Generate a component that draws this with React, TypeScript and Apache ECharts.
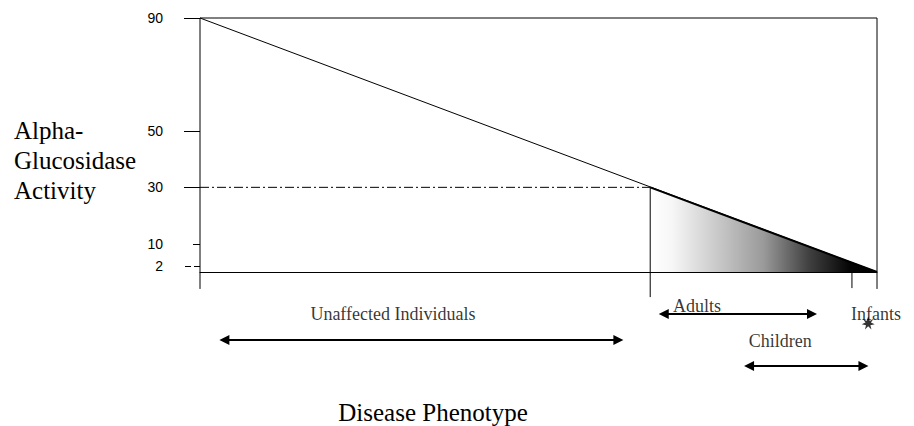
import React, { useEffect, useRef } from "react";
import * as echarts from "echarts";

// Y axis tick labels (schematic scale of alpha-glucosidase activity)
const yTicksMajor = [30, 50, 90];
const yTickShort = [10];
const yTickDashed = [2];

// Main activity line: from full activity to the lowest level
const activityLine = [
  [0, 90],
  [100, 0],
];
// Threshold where disease begins
const thresholdX = 66.5;
const thresholdY = 30;
// Affected (gradient) region along the line
const affectedLine = [
  [66.5, 30],
  [100, 0],
];
// Right-end tick on the phenotype axis
const infantTickX = 96.3;

// Phenotype ranges (below the axis)
const phenotypeNames = ["Unaffected Individuals", "Adults", "Children", "Infants"];
const phenotypeRanges = [
  [3.6, 61.8],
  [68.5, 90.4],
  [81.1, 98.0],
];
const phenotypeRows = [-24.1, -14.9, -33.3];
const labelX = [28.5, 73.4, 85.7, 99.85];
const labelY = [-14.9, -12.0, -24.4, -14.9];
const infantPoint = [98.7, -18.1];

const seg = (data: number[][], extra: any = {}) => ({
  type: "line",
  data,
  symbol: "none",
  clip: false,
  silent: true,
  lineStyle: { color: "#000", width: 1, ...extra },
  z: 3,
});

export default function App() {
  const ref = useRef<HTMLDivElement>(null);
  useEffect(() => {
    document.body.style.margin = "0";
    if (!ref.current) return;
    const chart = echarts.init(ref.current, undefined, { renderer: "svg" });
    const serif = "'Liberation Serif', 'Times New Roman', serif";
    const sans = "'Liberation Sans', Arial, sans-serif";
    const yBase = {
      type: "value",
      min: -40,
      max: 90,
      position: "left",
      axisLine: { show: false },
      splitLine: { show: false },
    };
    const tickLabel = {
      show: true,
      margin: 37,
      color: "#000",
      fontSize: 14,
      fontFamily: sans,
    };
    chart.setOption({
      animation: false,
      backgroundColor: "#fff",
      grid: { left: 200, right: 37, top: 18, bottom: 41.11 },
      xAxis: {
        type: "value",
        min: 0,
        max: 100,
        axisLine: { show: true, onZero: true, lineStyle: { color: "#000", width: 1 } },
        axisTick: { show: false },
        axisLabel: { show: false },
        splitLine: { show: false },
      },
      yAxis: [
        {
          ...yBase,
          axisTick: { show: true, customValues: yTicksMajor, length: 16, lineStyle: { color: "#000" } },
          axisLabel: { ...tickLabel, customValues: yTicksMajor },
        },
        {
          ...yBase,
          axisTick: { show: true, customValues: yTickShort, length: 7, lineStyle: { color: "#000" } },
          axisLabel: { ...tickLabel, customValues: yTickShort },
        },
        {
          ...yBase,
          axisTick: {
            show: true,
            customValues: yTickDashed,
            length: 16,
            lineStyle: { color: "#000", type: [6, 3] },
          },
          axisLabel: { ...tickLabel, customValues: yTickDashed },
        },
      ],
      graphic: [
        {
          type: "text",
          left: 14,
          top: 115,
          style: {
            text: "Alpha-\nGlucosidase\nActivity",
            font: `25px ${serif}`,
            lineHeight: 30,
            fill: "#000",
          },
        },
        {
          type: "text",
          x: 433,
          y: 412,
          style: {
            text: "Disease Phenotype",
            font: `25px ${serif}`,
            fill: "#000",
            align: "center",
            verticalAlign: "middle",
          },
        },
      ],
      series: [
        {
          type: "line",
          data: affectedLine,
          symbol: "none",
          silent: true,
          lineStyle: { color: "#000", width: 2 },
          areaStyle: {
            opacity: 1,
            color: new echarts.graphic.LinearGradient(0, 0, 1, 0, [
              { offset: 0, color: "#ffffff" },
              { offset: 0.1, color: "#f6f6f6" },
              { offset: 0.5, color: "#9a9a9a" },
              { offset: 0.7, color: "#404040" },
              { offset: 0.88, color: "#050505" },
              { offset: 1, color: "#000000" },
            ]),
          },
          z: 2,
        },
        seg(activityLine),
        seg([
          [0, 90],
          [0, -6],
        ]),
        seg([
          [0, 90],
          [100, 90],
        ]),
        seg([
          [100, 90],
          [100, -6],
        ]),
        seg([
          [infantTickX, 0],
          [infantTickX, -5.7],
        ]),
        seg([
          [thresholdX, thresholdY],
          [thresholdX, -8.9],
        ]),
        seg(
          [
            [0, thresholdY],
            [thresholdX, thresholdY],
          ],
          { type: [9, 3, 2, 3] }
        ),
        {
          type: "scatter",
          silent: true,
          clip: false,
          symbolSize: 0,
          data: phenotypeNames.map((n, i) => ({ name: n, value: [labelX[i], labelY[i]] })),
          label: {
            show: true,
            formatter: "{b}",
            position: "inside",
            color: "#000",
            fontSize: 18,
            fontFamily: serif,
          },
          markLine: {
            silent: true,
            symbol: ["triangle", "triangle"],
            symbolSize: 10,
            label: { show: false },
            lineStyle: { color: "#000", width: 2, type: "solid" },
            data: phenotypeRanges.map((r, i) => [
              { coord: [r[0], phenotypeRows[i]] },
              { coord: [r[1], phenotypeRows[i]] },
            ]),
          },
          z: 4,
        },
        {
          type: "scatter",
          silent: true,
          clip: false,
          data: [infantPoint],
          symbol:
            "path://M0,-6 L1.5,-2 L5,-4 L2.5,-0.5 L6,1 L2,2 L3,6 L0,3 L-3,6 L-2,2 L-6,1 L-2.5,-0.5 L-5,-4 L-1.5,-2 Z",
          symbolSize: 13,
          itemStyle: { color: "#000" },
          z: 5,
        },
      ],
    });
    return () => chart.dispose();
  }, []);
  return <div ref={ref} style={{ width: 914, height: 426 }} />;
}
